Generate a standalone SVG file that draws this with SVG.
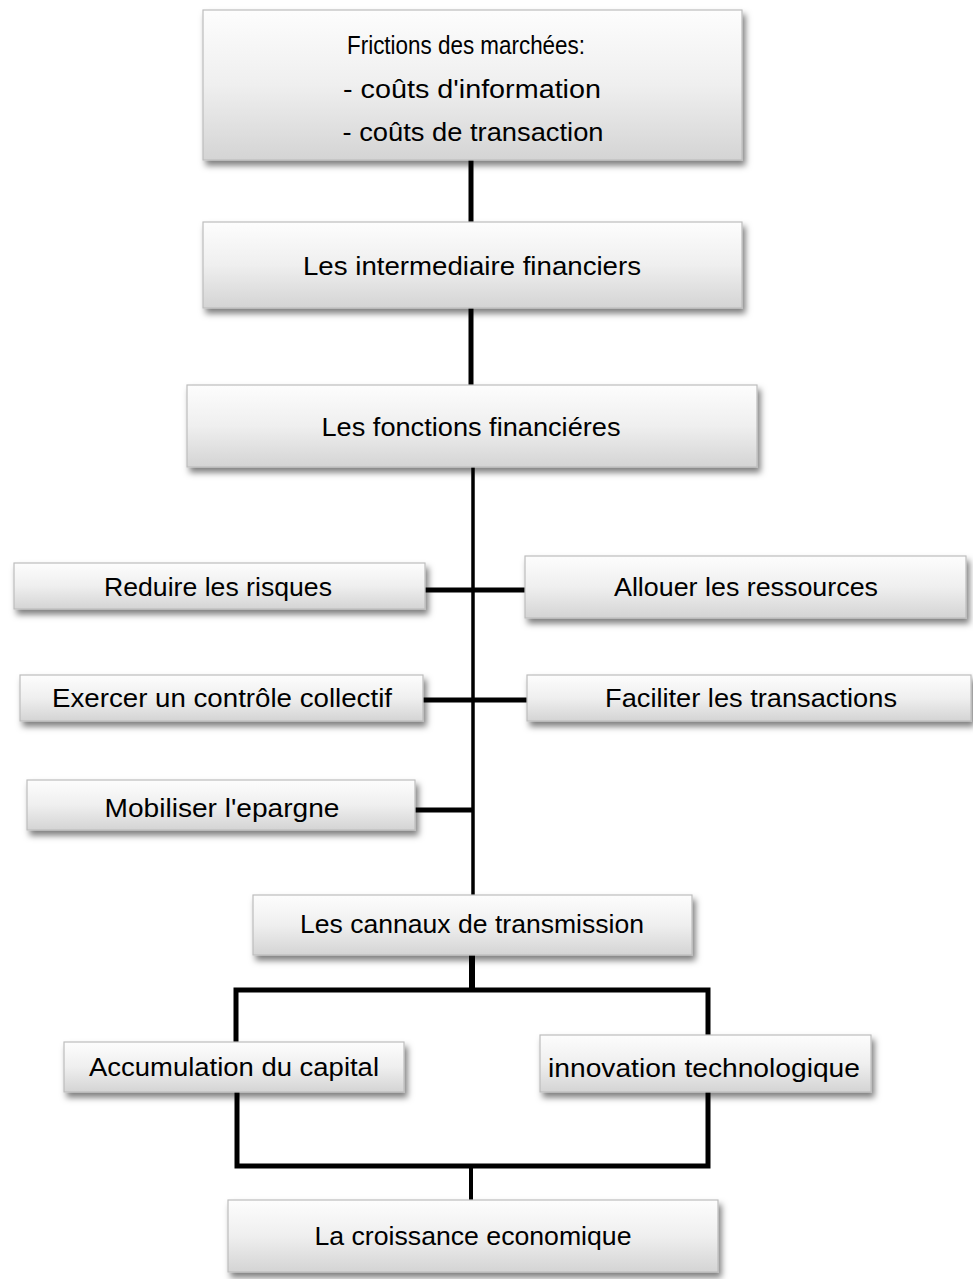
<svg xmlns="http://www.w3.org/2000/svg" width="973" height="1279" viewBox="0 0 973 1279">
<defs>
<linearGradient id="g" x1="0" y1="0" x2="0" y2="1">
<stop offset="0" stop-color="#fdfdfd"/>
<stop offset="0.5" stop-color="#efefef"/>
<stop offset="1" stop-color="#d4d4d4"/>
</linearGradient>
<filter id="sh" x="-10%" y="-20%" width="125%" height="160%">
<feDropShadow dx="3" dy="5" stdDeviation="3" flood-color="#000" flood-opacity="0.5"/>
</filter>
</defs>
<style>
.box{fill:url(#g);stroke:#bdbdbd;stroke-width:1.2;filter:url(#sh)}
.t{font-family:"Liberation Sans",Arial,sans-serif;font-size:26px;fill:#000;text-anchor:middle;dominant-baseline:central}
.c{stroke:#000;fill:none;stroke-linecap:butt;stroke-linejoin:miter}
</style>
<g id="connectors">
<line class="c" x1="471" y1="160" x2="471" y2="222" stroke-width="5"/>
<line class="c" x1="471" y1="308" x2="471" y2="385" stroke-width="5"/>
<line class="c" x1="473" y1="467" x2="473" y2="897" stroke-width="3.5"/>
<line class="c" x1="425" y1="590" x2="525" y2="590" stroke-width="5"/>
<line class="c" x1="423" y1="700" x2="527" y2="700" stroke-width="5"/>
<line class="c" x1="415" y1="810" x2="473" y2="810" stroke-width="5"/>
<line class="c" x1="472" y1="955" x2="472" y2="990" stroke-width="6"/>
<polyline class="c" points="236,1042 236,990 708,990 708,1035" stroke-width="5"/>
<polyline class="c" points="237,1092 237,1166 708,1166 708,1092" stroke-width="5"/>
<line class="c" x1="471" y1="1166" x2="471" y2="1200" stroke-width="4"/>
</g>
<g id="n1"><rect class="box" x="203" y="10" width="539" height="150"/>
<text class="t" x="466" y="45" textLength="238" lengthAdjust="spacingAndGlyphs">Frictions des marchées:</text>
<text class="t" x="472" y="89" textLength="258" lengthAdjust="spacingAndGlyphs">- coûts d'information</text>
<text class="t" x="473" y="132" textLength="261" lengthAdjust="spacingAndGlyphs">- coûts de transaction</text></g>
<g id="n2"><rect class="box" x="203" y="222" width="539" height="86"/>
<text class="t" x="472" y="266" textLength="338" lengthAdjust="spacingAndGlyphs">Les intermediaire financiers</text></g>
<g id="n3"><rect class="box" x="187" y="385" width="570" height="82"/>
<text class="t" x="471" y="427" textLength="299" lengthAdjust="spacingAndGlyphs">Les fonctions financiéres</text></g>
<g id="n4"><rect class="box" x="14" y="563" width="411" height="46"/>
<text class="t" x="218" y="587" textLength="228" lengthAdjust="spacingAndGlyphs">Reduire les risques</text></g>
<g id="n5"><rect class="box" x="525" y="556" width="441" height="62"/>
<text class="t" x="746" y="587" textLength="264" lengthAdjust="spacingAndGlyphs">Allouer les ressources</text></g>
<g id="n6"><rect class="box" x="20" y="675" width="403" height="46"/>
<text class="t" x="222" y="698" textLength="340" lengthAdjust="spacingAndGlyphs">Exercer un contrôle collectif</text></g>
<g id="n7"><rect class="box" x="527" y="675" width="444" height="46"/>
<text class="t" x="751" y="698" textLength="292" lengthAdjust="spacingAndGlyphs">Faciliter les transactions</text></g>
<g id="n8"><rect class="box" x="27" y="780" width="388" height="50"/>
<text class="t" x="222" y="808" textLength="235" lengthAdjust="spacingAndGlyphs">Mobiliser l'epargne</text></g>
<g id="n9"><rect class="box" x="253" y="895" width="439" height="60"/>
<text class="t" x="472" y="924" textLength="344" lengthAdjust="spacingAndGlyphs">Les cannaux de transmission</text></g>
<g id="n10"><rect class="box" x="64" y="1042" width="340" height="50"/>
<text class="t" x="234" y="1067" textLength="290" lengthAdjust="spacingAndGlyphs">Accumulation du capital</text></g>
<g id="n11"><rect class="box" x="540" y="1035" width="331" height="57"/>
<text class="t" x="704" y="1068" textLength="312" lengthAdjust="spacingAndGlyphs">innovation technologique</text></g>
<g id="n12"><rect class="box" x="228" y="1200" width="490" height="72"/>
<text class="t" x="473" y="1236" textLength="317" lengthAdjust="spacingAndGlyphs">La croissance economique</text></g>
</svg>
